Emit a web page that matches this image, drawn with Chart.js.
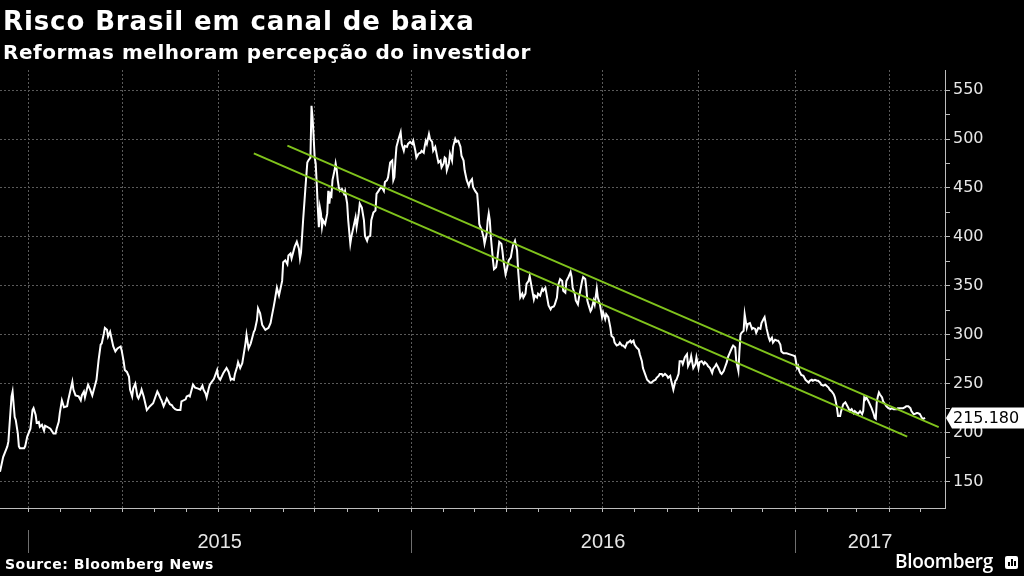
<!DOCTYPE html>
<html>
<head>
<meta charset="utf-8">
<script src="https://cdn.jsdelivr.net/npm/chart.js@4/dist/chart.umd.min.js"></script>
<style>
html,body{margin:0;padding:0;background:#000;}
#wrap{position:relative;width:1024px;height:576px;background:#000;overflow:hidden;}
#c{position:absolute;left:0;top:0;}
.t{position:absolute;color:#fff;font-family:"DejaVu Sans",sans-serif;font-weight:bold;white-space:nowrap;line-height:1;}
#title{left:3px;top:8px;font-size:26px;letter-spacing:0.9px;}
#sub{left:3px;top:42px;font-size:20px;letter-spacing:0.5px;}
#src{left:5px;top:557px;font-size:14px;letter-spacing:0.5px;}
#logo{left:895px;top:552px;font-size:19px;font-family:"Open Sans",sans-serif;font-weight:600;letter-spacing:-0.3px;}
#icon{position:absolute;left:1005px;top:556px;width:13px;height:13px;background:#fff;border-radius:2px;}
#icon i{position:absolute;bottom:3px;width:2px;background:#000;}
</style>
</head>
<body>
<div id="wrap">
  <canvas id="c" width="1024" height="576"></canvas>
  <div class="t" id="title">Risco Brasil em canal de baixa</div>
  <div class="t" id="sub">Reformas melhoram percepção do investidor</div>
  <div class="t" id="src">Source: Bloomberg News</div>
  <div class="t" id="logo">Bloomberg</div>
  <div id="icon"><i style="left:3px;height:4px"></i><i style="left:6px;height:7px"></i><i style="left:9px;height:5px"></i></div>
</div>
<script>
// Days since 2015-01-01
const days = [
  -27,-24,-20,-19,-16,-15,-13,-12,-10,-9,
  -8,-4,-3,-1,2,4,5,7,8,10,
  11,13,15,16,18,21,24,26,27,29,
  30,32,34,37,38,42,43,45,48,50,
  51,53,54,56,57,59,61,62,65,67,
  69,70,72,73,75,76,78,79,81,83,
  85,88,89,91,92,94,96,97,99,100,
  102,104,105,107,108,110,113,116,119,123,
  124,126,127,129,131,132,134,135,137,138,
  140,142,145,146,150,151,153,154,157,159,
  162,164,166,167,169,170,172,173,177,180,
  181,183,186,189,191,193,194,196,197,199,
  200,202,204,207,208,210,212,213,215,216,
  218,219,221,223,226,229,231,232,234,235,
  237,239,242,243,245,247,248,250,251,253,
  254,256,258,259,260,262,264,266,267,269,
  270,271,272,273,274,275,276,277,278,279,
  280,281,283,285,286,287,288,289,290,292,
  293,294,295,296,297,299,301,302,304,305,
  307,308,310,312,313,315,316,318,320,321,
  323,324,326,327,329,331,332,334,335,337,
  339,340,342,343,345,347,348,349,350,351,
  353,355,356,358,359,361,362,364,366,367,
  369,370,372,374,375,377,378,379,380,382,
  383,385,386,388,390,391,393,394,396,397,
  398,399,401,402,404,405,407,408,410,412,
  413,415,416,418,420,421,423,424,426,428,
  429,430,431,432,434,435,437,438,439,440,
  441,443,444,446,447,449,451,452,453,455,
  456,458,460,462,464,466,467,469,471,472,
  474,475,477,478,480,482,483,485,486,488,
  490,491,493,494,496,498,499,501,502,504,
  505,507,509,510,512,513,515,517,518,519,
  521,522,524,525,528,529,531,532,533,534,
  536,537,539,540,542,543,545,547,548,550,
  551,553,555,556,558,559,561,563,564,566,
  567,569,571,572,574,575,577,578,580,582,
  583,585,586,588,590,591,593,594,596,598,
  599,601,602,604,605,607,609,610,612,613,
  615,617,618,620,621,623,624,626,628,629,
  631,632,634,636,637,639,640,642,644,645,
  647,648,650,652,653,655,656,658,660,661,
  663,664,666,667,669,671,672,674,675,677,
  678,679,680,682,683,685,686,688,690,691,
  693,694,696,698,699,701,702,704,706,707,
  709,710,712,714,715,717,718,720,723,726,
  729,731,733,734,735,736,737,739,741,742,
  744,745,747,748,750,752,753,755,756,758,
  760,761,763,764,766,768,769,770,771,772,
  774,775,777,779,780,782,783,785,787,788,
  790,791,793,795,796,797,798,799,801,804,
  806,807,808,809,810,811,812,814,815,817,
  818,820,822,823,825,828,829,831,834,836,
  837,839,841,842,844,845,847,848,850,852,
  853,855
];
// Brazil risk (basis points)
const riskValues = [
  160,175,186,191,237,242,216,213,199,186,
  184,184,186,196,204,223,225,218,210,211,
  206,208,202,207,206,204,199,199,204,211,
  220,233,226,227,233,252,244,238,237,233,
  238,242,236,245,249,244,238,242,254,274,
  290,291,301,307,305,298,303,298,288,283,
  286,288,284,272,264,262,257,244,237,245,
  250,237,235,240,244,237,223,227,230,242,
  240,235,233,227,232,235,231,229,228,226,
  224,223,223,232,234,237,238,237,249,246,
  245,244,248,244,240,236,245,249,255,264,
  257,254,261,266,262,254,255,254,260,267,
  272,266,271,291,300,286,291,295,303,305,
  315,327,322,310,305,307,312,318,329,335,
  348,340,355,374,376,372,381,383,378,386,
  390,395,388,378,384,417,447,476,478,481,
  534,522,503,481,475,454,430,410,430,424,
  410,417,413,424,447,434,444,442,458,468,
  475,469,458,451,447,449,444,447,434,417,
  393,400,410,420,410,424,434,430,417,401,
  396,400,401,417,425,427,444,447,449,451,
  447,456,458,461,476,478,458,461,478,492,
  500,507,495,488,493,492,495,497,495,498,
  488,481,485,486,488,486,493,498,495,505,
  500,497,488,492,481,476,478,471,475,481,
  480,468,475,485,478,492,500,497,498,492,
  483,478,468,458,452,456,459,451,447,444,
  430,413,410,408,400,393,403,417,424,417,
  400,376,367,369,376,395,393,386,376,362,
  366,376,379,391,396,386,366,338,342,338,
  342,352,355,360,348,336,340,338,342,340,
  347,345,348,342,330,326,328,329,331,338,
  350,357,355,345,343,355,359,364,359,348,
  342,335,331,338,355,359,357,348,335,331,
  324,326,335,331,347,338,331,318,323,316,
  321,318,307,299,297,292,289,290,292,289,
  289,287,292,292,294,292,294,290,287,285,
  280,273,266,260,254,253,251,251,253,254,
  256,258,260,260,258,260,258,256,258,253,
  244,253,254,260,273,273,270,277,280,268,
  273,278,266,270,277,266,272,273,270,272,
  270,268,266,261,265,268,270,266,261,260,
  263,266,272,277,282,287,289,287,273,263,
  283,300,302,304,321,307,311,312,306,307,
  306,302,307,306,312,316,318,306,297,294,
  297,292,295,294,294,290,283,281,281,280,
  279,278,266,268,263,261,259,258,254,253,
  251,253,254,253,254,253,253,251,249,248,
  249,248,246,244,242,239,236,231,225,217,
  217,222,229,231,229,225,222,224,220,222,
  220,219,222,219,222,236,234,236,232,225,
  219,215,214,232,237,241,239,236,232,229,
  227,225,224,225,224,224,225,225,225,226,
  227,227,225,222,219,219,220,220,219,215,
  214,215.18
];
// Channel lines (start/end)
const upperDays = [247, 868];
const upperValues = [493.2, 205.6];
const lowerDays = [215, 838];
const lowerValues = [485.4, 196.0];
// Axis labels
const years = ['2015', '2016', '2017'];
const yTickValues = [150,175,200,225,250,275,300,325,350,375,400,425,450,475,500,525,550];

const DAY = 86400000;
const base = Date.UTC(2015, 0, 1);
const xMin = -27, xMax = 874;
const monthTicks = [], quarterTicks = new Set();
for (let y = 2014; y <= 2017; y++) {
  for (let m = 0; m < 12; m++) {
    const d = Math.round((Date.UTC(y, m, 1) - base) / DAY);
    if (d >= xMin && d <= xMax) {
      monthTicks.push(d);
      if (m % 3 === 0) quarterTicks.add(d);
    }
  }
}
const yearStarts = years.map(y => Math.round((Date.UTC(+y, 0, 1) - base) / DAY));
const yearMid = yearStarts.map((s, i) => {
  const e = Math.min(xMax, Math.round((Date.UTC(+years[i] + 1, 0, 1) - base) / DAY));
  return (Math.max(s, xMin) + e) / 2;
});

const toPts = (xs, ys) => xs.map((x, i) => ({x, y: ys[i]}));

const overlay = {
  id: 'overlay',
  afterDraw(chart) {
    const {ctx, chartArea, scales: {x, y}} = chart;
    ctx.save();
    ctx.strokeStyle = '#6f6f6f';
    ctx.lineWidth = 1;
    yearStarts.forEach(d => {
      const px = Math.round(x.getPixelForValue(d)) + 0.5;
      ctx.beginPath(); ctx.moveTo(px, 530); ctx.lineTo(px, 553); ctx.stroke();
    });
    ctx.fillStyle = '#e6e6e6';
    ctx.font = '20px "Liberation Sans Narrow", "Arial Narrow", sans-serif';
    ctx.textAlign = 'center';
    ctx.textBaseline = 'alphabetic';
    years.forEach((t, i) => ctx.fillText(t, x.getPixelForValue(yearMid[i]), 548));
    // last value tag
    const v = riskValues[riskValues.length - 1];
    const py = Math.round(y.getPixelForValue(v));
    const left = chartArea.right + 1;
    ctx.fillStyle = '#ffffff';
    ctx.beginPath();
    ctx.moveTo(left, py);
    ctx.lineTo(left + 6, py - 10.5);
    ctx.lineTo(1024, py - 10.5);
    ctx.lineTo(1024, py + 10.5);
    ctx.lineTo(left + 6, py + 10.5);
    ctx.closePath();
    ctx.fill();
    ctx.fillStyle = '#000';
    ctx.font = '16px "DejaVu Sans", sans-serif';
    ctx.textAlign = 'left';
    ctx.textBaseline = 'middle';
    ctx.fillText(v.toFixed(3), left + 7, py + 1);
    ctx.restore();
  }
};

new Chart(document.getElementById('c'), {
  type: 'line',
  data: {
    datasets: [
      { data: toPts(upperDays, upperValues), borderColor: '#80c31c', borderWidth: 2, pointRadius: 0, order: 0 },
      { data: toPts(lowerDays, lowerValues), borderColor: '#80c31c', borderWidth: 2, pointRadius: 0, order: 0 },
      { data: toPts(days, riskValues), borderColor: '#ffffff', borderWidth: 2, pointRadius: 0, tension: 0, order: 1 }
    ]
  },
  options: {
    responsive: false,
    devicePixelRatio: 1,
    animation: false,
    events: [],
    layout: { padding: { top: 70, left: 0, right: 0, bottom: 0 } },
    plugins: { legend: { display: false }, tooltip: { enabled: false }, title: { display: false } },
    scales: {
      x: {
        type: 'linear',
        min: xMin, max: xMax,
        afterBuildTicks: s => { s.ticks = monthTicks.map(v => ({value: v})); },
        afterFit: s => { s.height = 68; },
        ticks: { display: false, autoSkip: false },
        grid: {
          color: c => (c.tick && quarterTicks.has(c.tick.value)) ? '#5a5a5a' : 'rgba(0,0,0,0)',
          tickColor: '#bdbdbd',
          tickLength: 4,
          lineWidth: 1,
          drawTicks: true
        },
        border: { display: true, color: '#bdbdbd', width: 1, dash: [2, 2] }
      },
      y: {
        type: 'linear',
        position: 'right',
        min: 123, max: 570.5,
        afterBuildTicks: s => { s.ticks = yTickValues.map(v => ({value: v})); },
        afterFit: s => { s.width = 79; },
        ticks: {
          autoSkip: false,
          color: '#e6e6e6',
          padding: 3,
          font: { family: '"DejaVu Sans", sans-serif', size: 16 },
          callback: v => (v % 50 === 0 ? String(v) : '')
        },
        grid: {
          color: c => (c.tick && c.tick.value % 50 === 0) ? '#5a5a5a' : 'rgba(0,0,0,0)',
          tickColor: '#bdbdbd',
          tickLength: 5,
          lineWidth: 1
        },
        border: { display: true, color: '#bdbdbd', width: 1, dash: [2, 2] }
      }
    }
  },
  plugins: [overlay]
});
</script>
</body>
</html>
